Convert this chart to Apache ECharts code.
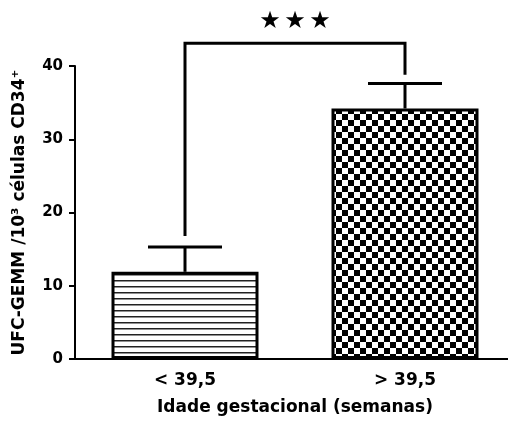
<!DOCTYPE html>
<html>
<head>
<meta charset="utf-8">
<script src="https://cdn.jsdelivr.net/npm/echarts@6/dist/echarts.min.js"></script>
<style>
  html, body { margin: 0; padding: 0; background: #fff; }
  #chart { width: 508px; height: 424px; }
</style>
</head>
<body>
<div id="chart"></div>
<script>
// Gestational age groups and UFC-GEMM counts (mean with upper error)
const categories = ['< 39,5', '> 39,5'];
const means = [11.9, 34.2];
const upper = [15.3, 37.6];
const yTicks = [0, 10, 20, 30, 40];

// Significance bracket: left foot, right foot, top, star height (axis units)
const bracketLeftFoot = 16.8;
const bracketRightFoot = 38.8;
const bracketTop = 43.1;
const starLevel = 46;
const starText = '★';

const FONT = 'DejaVu Sans';

// Fill patterns drawn on small canvases
function stripes() {
  const c = document.createElement('canvas');
  c.width = 6; c.height = 6;
  const g = c.getContext('2d');
  g.fillStyle = '#fff'; g.fillRect(0, 0, 6, 6);
  g.fillStyle = '#222'; g.fillRect(0, 4, 6, 1.5);
  return c;
}
function checker() {
  const c = document.createElement('canvas');
  c.width = 12; c.height = 12;
  const g = c.getContext('2d');
  g.fillStyle = '#fff'; g.fillRect(0, 0, 12, 12);
  g.fillStyle = '#000';
  g.fillRect(0, 0, 6, 6);
  g.fillRect(6, 6, 6, 6);
  return c;
}
const fills = [
  { image: stripes(), repeat: 'repeat' },
  { image: checker(), repeat: 'repeat' }
];

const chart = echarts.init(document.getElementById('chart'), null, { renderer: 'canvas' });

chart.setOption({
  animation: false,
  backgroundColor: '#fff',
  grid: { left: 75, top: 66, width: 440, height: 293, containLabel: false, outerBoundsMode: 'none' },
  xAxis: {
    type: 'category',
    data: categories,
    name: 'Idade gestacional (semanas)',
    nameLocation: 'middle',
    nameGap: 40,
    nameTextStyle: { fontFamily: FONT, fontWeight: 'bold', fontSize: 17, color: '#000' },
    axisLine: { lineStyle: { color: '#000', width: 2 } },
    axisTick: { alignWithLabel: true, length: 6, lineStyle: { color: '#000', width: 2 } },
    axisLabel: { margin: 13, fontFamily: FONT, fontWeight: 'bold', fontSize: 17, color: '#000' },
    splitLine: { show: false }
  },
  yAxis: {
    type: 'value',
    min: yTicks[0],
    max: yTicks[yTicks.length - 1],
    interval: yTicks[1] - yTicks[0],
    name: 'UFC-GEMM /10³ células CD34⁺',
    nameLocation: 'middle',
    nameRotate: 90,
    nameGap: 47,
    nameTextStyle: { fontFamily: FONT, fontWeight: 'bold', fontSize: 17, color: '#000' },
    axisLine: { show: true, lineStyle: { color: '#000', width: 2 } },
    axisTick: { show: true, length: 6, lineStyle: { color: '#000', width: 2 } },
    axisLabel: { margin: 12, fontFamily: FONT, fontWeight: 'bold', fontSize: 15, color: '#000' },
    splitLine: { show: false }
  },
  series: [
    {
      type: 'bar',
      barWidth: 147,
      data: means.map((v, i) => ({
        value: v,
        itemStyle: { color: fills[i], borderColor: '#000', borderWidth: 3 }
      })),
      z: 2
    },
    {
      // error bars: stem from bar top to the upper value, with a cap
      type: 'custom',
      data: means.map((m, i) => [i, m, upper[i]]),
      z: 3,
      renderItem: function (params, api) {
        const base = api.coord([api.value(0), api.value(1)]);
        const top = api.coord([api.value(0), api.value(2)]);
        const half = 37;
        const style = { stroke: '#000', lineWidth: 3 };
        return {
          type: 'group',
          children: [
            { type: 'line', shape: { x1: base[0], y1: base[1], x2: top[0], y2: top[1] }, style: style },
            { type: 'line', shape: { x1: top[0] - half, y1: top[1], x2: top[0] + half, y2: top[1] }, style: style }
          ]
        };
      }
    },
    {
      // significance bracket between the two groups
      type: 'custom',
      clip: false,
      data: [[0, 1, bracketLeftFoot, bracketRightFoot, bracketTop, starLevel]],
      z: 3,
      renderItem: function (params, api) {
        const a = api.value(0), b = api.value(1);
        const lf = api.coord([a, api.value(2)]);
        const rf = api.coord([b, api.value(3)]);
        const lt = api.coord([a, api.value(4)]);
        const rt = api.coord([b, api.value(4)]);
        const sy = api.coord([a, api.value(5)])[1];
        const mid = (lt[0] + rt[0]) / 2;
        const style = { stroke: '#000', lineWidth: 3, fill: null };
        const stars = [-25, 0, 25].map(dx => ({
          type: 'text',
          style: {
            x: mid + dx, y: sy, text: starText,
            fontFamily: FONT, fontSize: 24, fill: '#000',
            align: 'center', verticalAlign: 'middle'
          }
        }));
        return {
          type: 'group',
          children: [
            { type: 'polyline', shape: { points: [lf, lt, rt, rf] }, style: style }
          ].concat(stars)
        };
      }
    }
  ]
});
</script>
</body>
</html>
